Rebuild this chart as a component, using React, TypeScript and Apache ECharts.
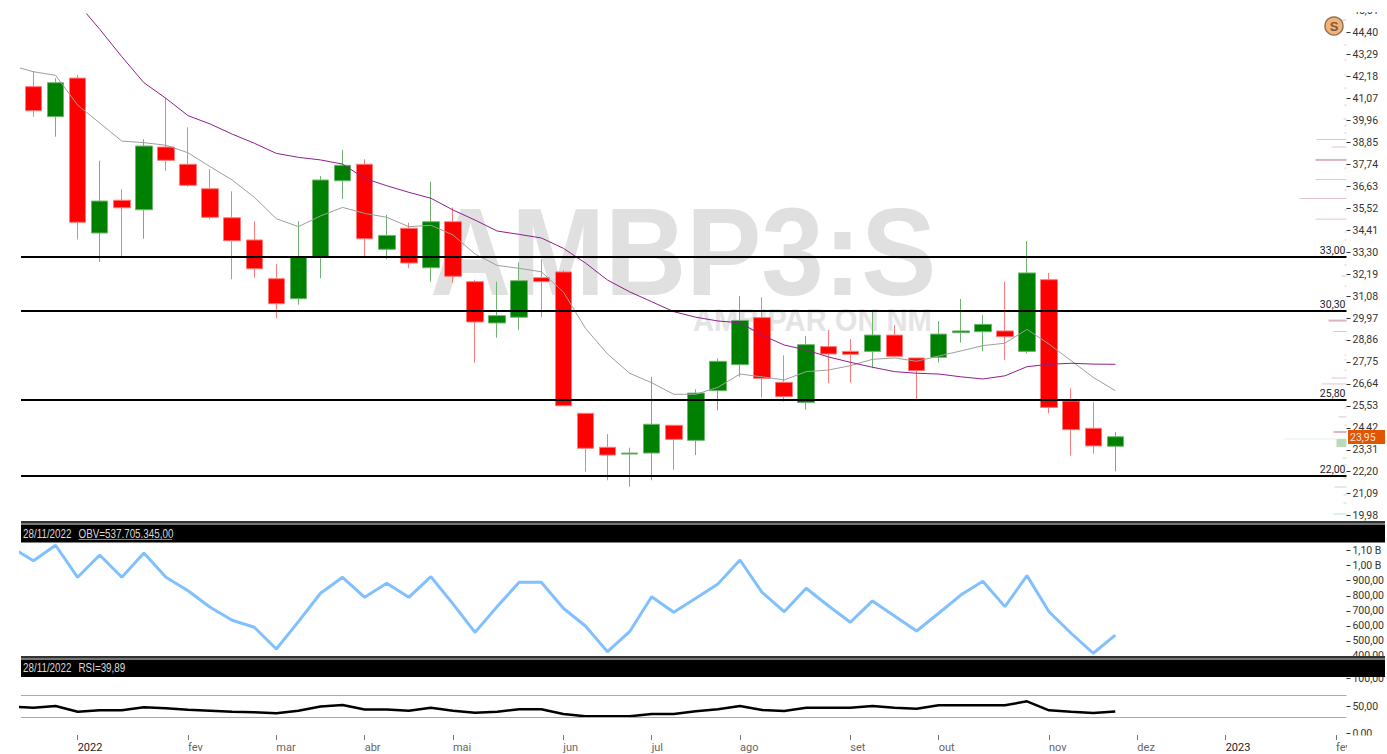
import React, { useEffect, useRef } from "react";
import * as echarts from "echarts";

// [open, close, low, high]
const candles: number[][] = [
  [41.58,40.37,40.07,42.37],[40.07,41.78,39.06,42.00],[42.01,34.75,33.89,42.17],[34.21,35.82,32.75,37.85],
  [35.86,35.48,33.02,36.41],[35.38,38.59,33.92,38.93],[38.54,37.87,37.35,41.02],[37.67,36.61,36.54,39.53],
  [36.44,35.00,34.90,37.43],[34.98,33.82,31.88,36.31],[33.86,32.41,31.96,34.80],[31.91,30.65,29.92,32.65],
  [30.90,33.02,30.60,34.80],[33.02,36.88,31.93,37.08],[36.84,37.62,35.92,38.39],[37.67,33.92,33.02,37.92],
  [33.39,34.09,32.89,35.12],[34.45,32.70,32.46,34.73],[32.46,34.78,31.76,36.79],[34.78,32.03,31.71,35.50],
  [31.76,29.73,27.68,31.84],[29.68,30.05,28.94,31.76],[29.97,31.81,29.33,32.73],[31.96,31.76,29.97,32.89],
  [32.25,25.51,25.51,32.35],[25.13,23.37,22.19,25.13],[23.42,23.03,21.76,24.09],[23.08,23.13,21.44,23.40],
  [23.13,24.58,21.76,26.97],[24.53,23.82,22.29,24.53],[23.77,26.15,23.03,26.34],[26.27,27.75,25.28,27.90],
  [27.58,29.81,26.97,31.04],[29.95,26.89,25.92,30.97],[26.69,25.97,25.72,28.05],[25.67,28.59,25.31,29.02],
  [28.49,28.12,26.64,29.33],[28.25,28.10,26.67,28.87],[28.25,29.07,27.40,30.28],[29.07,28.00,28.00,29.58],
  [27.92,27.28,25.85,27.92],[27.95,29.12,27.68,29.78],[29.19,29.28,28.69,30.89],[29.24,29.61,28.25,30.07],
  [29.28,28.99,27.82,31.76],[28.25,32.20,28.15,33.81],[31.86,25.43,25.13,32.20],[25.75,24.31,23.00,26.39],
  [24.38,23.49,23.10,25.70],[23.47,23.95,22.21,24.19],
];

// First value belongs to the week before the first candle
const shortMa = [
  42.64,42.33,42.15,40.65,39.75,38.84,38.76,38.63,38.25,37.55,36.88,36.01,34.93,34.53,35.07,35.50,35.20,35.00,34.53,34.60,
  34.11,33.15,32.58,32.43,32.26,31.24,29.41,28.12,27.15,26.67,26.09,26.09,26.44,27.11,26.97,26.81,27.23,27.31,27.53,27.85,
  27.92,27.75,28.02,28.27,28.54,28.66,29.36,28.61,27.78,26.94,26.27,
];
// Starts at the third candle
const longMa = [
  45.78,44.47,43.09,41.78,40.99,40.12,39.70,39.19,38.73,38.22,38.02,37.89,37.68,36.96,36.59,36.26,35.96,35.37,34.86,34.31,
  34.14,33.96,33.44,32.70,31.84,31.25,30.75,30.25,29.97,29.78,29.69,29.07,28.57,28.32,27.97,27.70,27.45,27.23,27.15,27.11,
  26.97,26.86,27.02,27.48,27.60,27.65,27.61,27.60,
];
// OBV in millions; first value belongs to the week before the first candle
const obv = [
  1121,1033,1136,923,1071,923,1085,923,834,724,637,591,446,628,817,923,790,883,790,927,746,557,728,890,890,717,599,428,561,
  794,690,784,879,1038,823,694,850,734,624,766,666,566,684,805,897,728,934,694,551,418,538,
];
// RSI; first value belongs to the week before the first candle
const rsi = [
  49.1,46.9,50,39.6,42.2,42.2,47.6,45.8,43.3,41.5,39.6,38.5,36.7,41.3,49.1,51.8,43.6,43.6,41.5,46.9,41.5,37.8,39.6,44,44,35.5,
  31.3,31.3,31.3,35.5,35.5,40.4,44,50,42.7,40.9,46.9,46.9,46.9,50,46.9,45.1,51.3,51.3,51.3,51.3,58.5,42.2,39.6,37.3,39.89,
];

const levels = [33, 30.3, 25.8, 22];
const rsiBands = [70, 30];
const priceTicks = [
  19.98,21.09,22.2,23.31,24.42,25.53,26.64,27.75,28.86,29.97,31.08,32.19,33.3,34.41,35.52,36.63,37.74,38.85,39.96,41.07,42.18,43.29,44.4,
];
const obvTicks = [400,500,600,700,800,900,1000,1100];
const rsiTicks = [0,50,100];
const monthIndex = [2,7,11,15,19,24,28,32,37,41,46,50,54,59];
const monthNames = ["2022","fev","mar","abr","mai","jun","jul","ago","set","out","nov","dez","2023","fev"];

// [length, price]
const profileThin = [
  [6,44.93],[3,39.95],[30,38.92],[15,38.54],[31,36.90],[47,35.95],[31,34.91],[5,32.04],[13,29.25],[15,26.91],[25,26.61],[8,24.95],
  [2,43.68],[2,42.92],[2,42.17],[2,41.51],[2,40.65],[2,39.60],[2,39.24],[2,37.48],[2,36.37],[2,35.37],[2,34.26],[2,33.86],
  [2,32.60],[2,31.54],[2,30.84],[2,28.82],[2,28.07],[2,27.82],[2,27.31],[2,25.40],[2,24.54],
];
const profileThick = [[31,37.89],[18,29.80],[13,24.19]];
const profileGreenThin = [[12,21.42],[13,20.06],[4,22.88],[5,22.53],[4,22.13],[3,21.87],[3,21.02],[3,20.62]];
const profileGreenFaint = [[62,23.84]];
const profileGreenBlock = [[10,23.64]];

const FONT = 'Roboto, "Liberation Sans", sans-serif';
const LABEL_SIZE = 10.5;
const comma = (v: number) => v.toFixed(2).replace(".", ",");
const X_MIN = -0.566;
const X_MAX = 59.47;

// The price scale's printed ticks run a little tighter than the plotted prices.
const TICK_BASE = 19.98;
const TICK_RATIO = 19.78 / 19.86;
const priceTickAt = priceTicks.map((v) => TICK_BASE + (v - TICK_BASE) * TICK_RATIO);
const priceTickLabel = (p: number) => comma(TICK_BASE + (p - TICK_BASE) / TICK_RATIO);

const profileSeries = (data: number[][], color: string, thick: number) => ({
  type: "custom",
  xAxisIndex: 3,
  yAxisIndex: 3,
  silent: true,
  clip: false,
  data,
  encode: { x: 0, y: 1 },
  renderItem: (_p: any, api: any) => {
    const a = api.coord([0, api.value(1)]);
    const b = api.coord([api.value(0), api.value(1)]);
    return {
      type: "rect",
      shape: { x: b[0], y: a[1] - thick / 2, width: a[0] - b[0], height: thick },
      style: { fill: color },
    };
  },
});

const hiddenAxis = (gridIndex: number) => ({
  type: "value",
  gridIndex,
  min: X_MIN,
  max: X_MAX,
  axisLine: { show: false, onZero: false },
  axisTick: { show: false },
  axisLabel: { show: false },
  splitLine: { show: false },
});

const priceAxis = (gridIndex: number, min: number, max: number, ticks: number[], fmt: (v: number) => string) => ({
  type: "value",
  gridIndex,
  position: "right",
  min,
  max,
  axisLine: { show: false, onZero: false },
  splitLine: { show: false },
  axisTick: { show: true, length: 4, inside: false, lineStyle: { color: "#333", width: 1 }, customValues: ticks },
  axisLabel: { show: true, margin: 6, color: "#333", fontFamily: FONT, fontSize: LABEL_SIZE, customValues: ticks, formatter: fmt, showMinLabel: true, showMaxLabel: true },
});

const BAR_W = 1364;
const bar = (y1: number, y2: number) => [
  { type: "rect", z: 50, shape: { x: 21, y: y1, width: BAR_W, height: 2 }, style: { fill: "#333" } },
  { type: "rect", z: 50, shape: { x: 21, y: y1 + 2, width: BAR_W, height: 2 }, style: { fill: "#777" } },
  { type: "rect", z: 50, shape: { x: 21, y: y1 + 4, width: BAR_W, height: y2 - y1 - 4 }, style: { fill: "#000" } },
];

const barText = (text: string, x: number, y: number) => ({
  type: "text",
  z: 51,
  x,
  y,
  scaleX: 0.82,
  style: { text, fill: "#d8d8d8", font: '12px "Liberation Sans", sans-serif', textVerticalAlign: "middle" },
});

export default function App() {
  const ref = useRef<HTMLDivElement>(null);
  useEffect(() => {
    document.body.style.margin = "0";
    const chart = echarts.init(ref.current!, null, { renderer: "svg" });
    const mainMin = 19.709;
    const mainMax = 45.238;
    chart.setOption({
      animation: false,
      backgroundColor: "#fff",
      grid: [
        { left: 21, width: 1325.5, top: 14, height: 507 },
        { left: 21, width: 1325.5, top: 543, height: 114 },
        { left: 21, width: 1325.5, top: 677, height: 58 },
        { left: 21, width: 1325.5, top: 14, height: 507 },
      ],
      xAxis: [
        hiddenAxis(0),
        hiddenAxis(1),
        {
          type: "value",
          gridIndex: 2,
          min: X_MIN,
          max: X_MAX,
          axisLine: { show: false, onZero: false },
          splitLine: { show: false },
          axisTick: { show: true, length: 5, lineStyle: { color: "#777" }, customValues: monthIndex },
          axisLabel: {
            show: true,
            align: "left",
            margin: 7,
            fontFamily: FONT,
            fontSize: 11,
            customValues: monthIndex,
            formatter: (v: number) => monthNames[monthIndex.indexOf(Math.round(v))] ?? "",
            color: (v: any) => {
              const n = monthNames[monthIndex.indexOf(Math.round(Number(v)))];
              return n === "2022" || n === "2023" ? "#222" : "#666";
            },
          },
        },
        { type: "value", gridIndex: 3, min: 0, max: 1325.5, inverse: true, show: false },
      ],
      yAxis: [
        priceAxis(0, mainMin, mainMax, priceTickAt, priceTickLabel),
        priceAxis(1, 393, 1151, obvTicks, (v) => (v >= 1000 ? comma(v / 1000) + " B" : comma(v))),
        priceAxis(2, -2.7, 102.7, rsiTicks, comma),
        { type: "value", gridIndex: 3, min: mainMin, max: mainMax, show: false },
      ],
      series: [
        {
          type: "candlestick",
          xAxisIndex: 0,
          yAxisIndex: 0,
          barWidth: 17,
          encode: { x: 0, y: [1, 2, 3, 4] },
          data: candles.map((c, i) => [i, ...c]),
          itemStyle: { color: "#008000", color0: "#ff0000", borderColor: "#6fb56f", borderColor0: "#ff7a7a", borderWidth: 1 },
          z: 3,
          markLine: {
            silent: true,
            symbol: "none",
            animation: false,
            lineStyle: { color: "#000", width: 2, type: "solid" },
            label: {
              show: true,
              position: "insideEndTop",
              distance: [1, 1],
              color: "#222",
              fontFamily: FONT,
              fontSize: LABEL_SIZE,
              formatter: (p: any) => comma(p.value),
            },
            data: levels.map((v) => ({ yAxis: v })),
          },
        },
        {
          type: "line",
          xAxisIndex: 0,
          yAxisIndex: 0,
          data: shortMa.map((v, i) => [i - 1, v]),
          showSymbol: false,
          lineStyle: { color: "#9e9e9e", width: 1 },
          z: 4,
        },
        {
          type: "line",
          xAxisIndex: 0,
          yAxisIndex: 0,
          data: longMa.map((v, i) => [i + 2, v]),
          showSymbol: false,
          lineStyle: { color: "#8e1f8e", width: 1 },
          z: 4,
        },
        {
          type: "line",
          xAxisIndex: 1,
          yAxisIndex: 1,
          data: obv.map((v, i) => [i - 1, v]),
          showSymbol: false,
          lineStyle: { color: "#80c0ff", width: 3 },
        },
        {
          type: "line",
          xAxisIndex: 2,
          yAxisIndex: 2,
          data: rsi.map((v, i) => [i - 1, v]),
          showSymbol: false,
          lineStyle: { color: "#000", width: 2.5 },
          markLine: {
            silent: true,
            symbol: "none",
            animation: false,
            label: { show: false },
            lineStyle: { color: "#aaa", width: 1, type: "solid" },
            data: rsiBands.map((v) => ({ yAxis: v })),
          },
        },
        profileSeries(profileThin, "#e3c3cc", 1),
        profileSeries(profileThick, "#dcb4be", 2),
        profileSeries(profileGreenThin, "#bfe0bf", 1),
        profileSeries(profileGreenFaint, "#e2f3e2", 1),
        profileSeries(profileGreenBlock, "#b8dcb8", 8),
      ],
      graphic: {
        elements: [
          {
            type: "text",
            z: -1,
            x: 430,
            y: 251,
            scaleX: 0.9,
            style: { text: "AMBP3:S", fill: "#e0e0e0", font: 'bold 125px "Liberation Sans", sans-serif', textVerticalAlign: "middle" },
          },
          {
            type: "text",
            z: -1,
            x: 693,
            y: 319,
            scaleX: 0.91,
            style: { text: "AMBIPAR ON NM", fill: "#e4e4e4", font: 'bold 32px "Liberation Sans", sans-serif', textVerticalAlign: "middle" },
          },
          ...bar(521, 542.5),
          ...bar(656, 677),
          barText("28/11/2022", 23, 534),
          barText("OBV=537.705.345,00", 78.5, 534),
          { type: "line", z: 51, shape: { x1: 78.5, y1: 539.5, x2: 172, y2: 539.5 }, style: { stroke: "#5d8fc9", lineWidth: 1 } },
          barText("28/11/2022", 23, 668),
          barText("RSI=39,89", 78.5, 668),
          { type: "rect", z: 52, shape: { x: 1348, y: 430, width: 37, height: 14 }, style: { fill: "#e25500" } },
          {
            type: "text",
            z: 53,
            x: 1350,
            y: 437.5,
            style: { text: "23,95", fill: "#f7e3d5", font: `${LABEL_SIZE}px ${FONT}`, textVerticalAlign: "middle" },
          },
          {
            type: "text",
            z: 5,
            x: 1353,
            y: 10,
            style: { text: "45,51", fill: "#333", font: `${LABEL_SIZE}px ${FONT}`, textVerticalAlign: "middle" },
          },
          { type: "rect", z: 6, shape: { x: 1347, y: 0, width: 40, height: 12 }, style: { fill: "#fff" } },
          { type: "rect", z: 52, shape: { x: 1347, y: 735.5, width: 40, height: 19 }, style: { fill: "#fff" } },
          { type: "circle", z: 20, shape: { cx: 1334, cy: 26, r: 9 }, style: { fill: "#f4b27a", stroke: "#8f7455", lineWidth: 1.5 } },
          {
            type: "text",
            z: 21,
            x: 1334,
            y: 26,
            style: { text: "S", fill: "#7a5a3a", font: 'bold 13px "Liberation Sans", sans-serif', textAlign: "center", textVerticalAlign: "middle" },
          },
        ],
      },
    });
    return () => chart.dispose();
  }, []);
  return <div ref={ref} style={{ width: 1387, height: 754 }} />;
}
